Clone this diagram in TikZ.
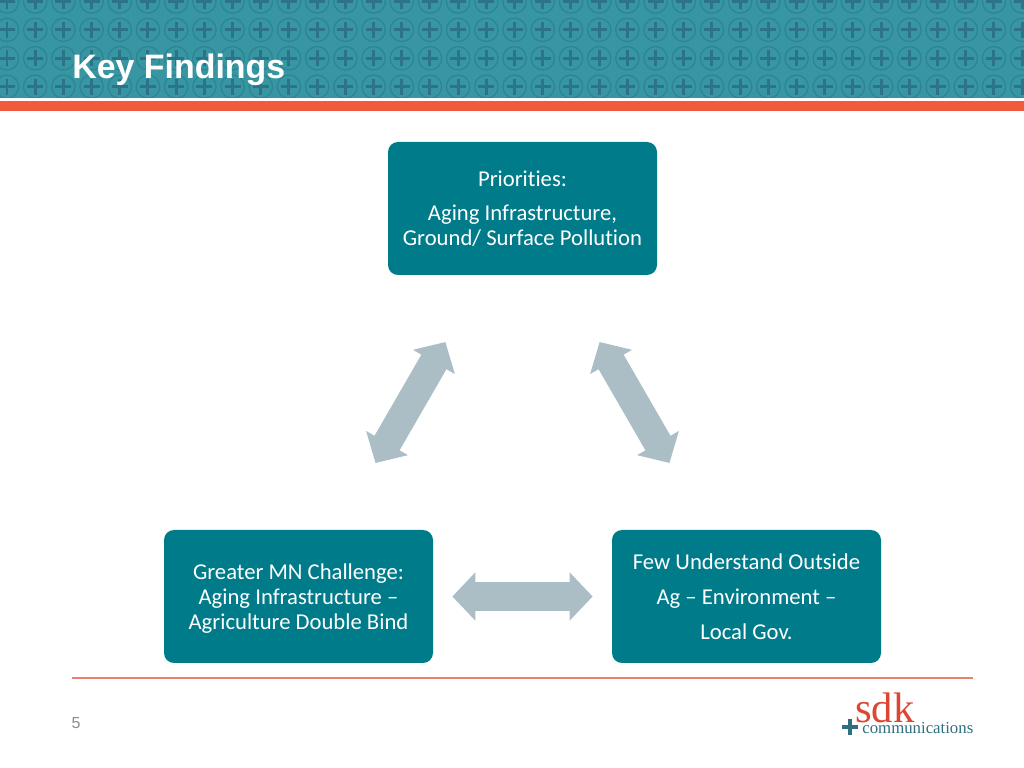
\documentclass[tikz,border=0pt]{standalone}
\usepackage{fontspec}
\setmainfont{Carlito}[Ligatures=CommonOff]
\newfontfamily\headfont{Liberation Sans}
\newfontfamily\logofont{Liberation Serif}
\usepackage{tikz}
\usetikzlibrary{arrows.meta}
\definecolor{bandteal}{HTML}{3796A2}
\definecolor{ringteal}{HTML}{2C8494}
\definecolor{crossteal}{HTML}{2D7388}
\definecolor{boxteal}{HTML}{007B8A}
\definecolor{arrowgrey}{HTML}{ABBEC6}
\definecolor{barorange}{HTML}{F15A3C}
\definecolor{rulered}{HTML}{E8826E}
\definecolor{sdkred}{HTML}{DC4632}
\definecolor{logoteal}{HTML}{2F6F80}

\begin{document}
\begin{tikzpicture}[
  findingbox/.style={fill=boxteal,rounded corners=0.2cm,minimum width=5.38cm,minimum height=2.66cm,
    text=white,align=center,font=\fontsize{12.9}{14.2}\selectfont},
  linkarrow/.style={line width=0.58cm,arrowgrey,{Triangle[length=0.46cm,width=0.94cm]}-{Triangle[length=0.46cm,width=0.94cm]}},
  ring/.style={ringteal,line width=0.025cm},
  cross/.style={crossteal,line width=0.06cm}]
\useasboundingbox (0cm,0cm) rectangle (20.48cm,-15.36cm);
% header band
\fill[bandteal] (0cm,0cm) rectangle (20.48cm,-1.96cm);
\begin{scope}
\clip (0cm,0cm) rectangle (20.48cm,-1.96cm);
\foreach \i in {0,...,36} {
  \foreach \j in {0,...,3} {
    \draw[ring] ({0.14+\i*0.564},{-0.03-\j*0.568}) circle (0.234cm);
    \draw[cross] ({0.14+\i*0.564-0.16},{-0.03-\j*0.568}) -- ({0.14+\i*0.564+0.16},{-0.03-\j*0.568});
    \draw[cross] ({0.14+\i*0.564},{-0.03-\j*0.568-0.16}) -- ({0.14+\i*0.564},{-0.03-\j*0.568+0.16});
  }
}
\end{scope}
\fill[barorange] (0cm,-2.02cm) rectangle (20.48cm,-2.22cm);
\node[anchor=base west,inner sep=0pt,text=white,font=\headfont\bfseries\fontsize{19.3}{23}\selectfont] (title) at (1.44cm,-1.58cm) {Key Findings};
% boxes
\node[findingbox] (priorities) at (10.45cm,-4.17cm) {Priorities:\\[0.18cm] Aging Infrastructure,\\ Ground/ Surface Pollution};
\node[findingbox] (greater) at (5.97cm,-11.93cm) {\rule{0pt}{0.38cm}Greater MN Challenge:\\ Aging Infrastructure --\\ Agriculture Double Bind};
\node[findingbox] (few) at (14.93cm,-11.93cm) {Few Understand Outside\\[0.2cm] Ag -- Environment --\\[0.2cm] Local Gov.};
% arrows
\draw[linkarrow,shorten <=1.54cm,shorten >=1.54cm] (priorities) -- (greater);
\draw[linkarrow,shorten <=1.54cm,shorten >=1.54cm] (priorities) -- (few);
\draw[linkarrow,shorten <=0.38cm,shorten >=0.38cm] (greater) -- (few);
% footer
\coordinate (ruleleft) at (1.44cm,-13.56cm);
\coordinate (ruleright) at (19.46cm,-13.56cm);
\draw[rulered,line width=0.03cm] (ruleleft) -- (ruleright);
\node[anchor=base,inner sep=0pt,text=black!45,font=\headfont\fontsize{9.1}{11}\selectfont] (pagenum) at (1.52cm,-14.56cm) {5};
\node[anchor=base west,inner sep=0pt,text=sdkred,font=\logofont\fontsize{24.3}{30}\selectfont] (sdk) at (17.1cm,-14.45cm) {sdk};
\node[anchor=base west,inner sep=0pt,text=logoteal,font=\logofont\fontsize{9.55}{11}\selectfont] (comm) at (17.24cm,-14.66cm) {communications};
\draw[logoteal,line width=0.065cm] (16.84cm,-14.54cm) -- (17.16cm,-14.54cm);
\draw[logoteal,line width=0.065cm] (17cm,-14.38cm) -- (17cm,-14.7cm);
\end{tikzpicture}
\end{document}
